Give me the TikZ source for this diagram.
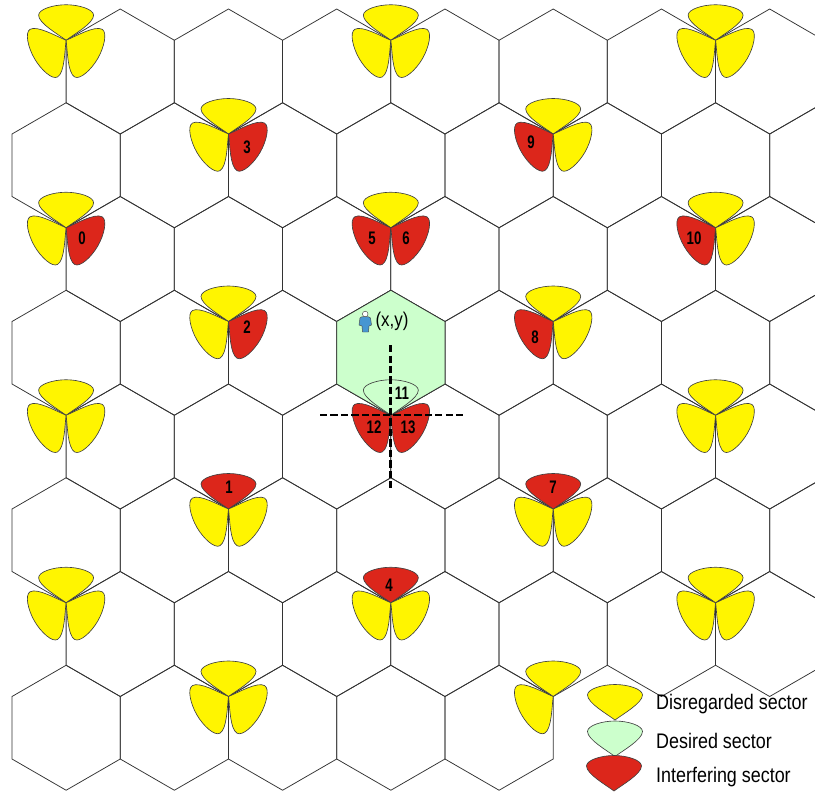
\documentclass[tikz,border=0pt]{standalone}
\usepackage{fontspec}
\setmainfont{Liberation Sans}
\newfontfamily\legendfont[FakeStretch=0.85]{Liberation Sans}
\newfontfamily\numfont[FakeStretch=0.73]{Liberation Sans}
\definecolor{lobeyellow}{RGB}{255,245,0}
\definecolor{lobegreen}{RGB}{204,255,204}
\definecolor{lobered}{RGB}{220,38,27}
\definecolor{userblue}{RGB}{70,150,210}
\tikzset{
  hexcell/.style={draw=black!80, line width=0.65pt},
  sector/.style={draw=black!75, line width=0.55pt, line join=round},
  numlabel/.style={font=\numfont\bfseries\fontsize{15.5}{16}\selectfont, inner sep=0pt},
  legendlabel/.style={font=\legendfont\fontsize{18}{20}\selectfont, anchor=west, inner sep=0pt},
  axisline/.style={black, line width=2pt, dash pattern=on 6pt off 2.96pt}
}
\def\hexpath{++(0,62.5) -- ++(54.12,-31.25) -- ++(0,-62.5) -- ++(-54.12,-31.25) -- ++(-54.12,31.25) -- ++(0,62.5) -- cycle}
\def\lobepath{(0,0) .. controls (-8,6) and (-27.5,17) .. (-27.5,25) .. controls (-27.5,31) and (-13,35.5) .. (0,35.5) .. controls (13,35.5) and (27.5,31) .. (27.5,25) .. controls (27.5,17) and (8,6) .. (0,0) -- cycle}
\begin{document}
\begin{tikzpicture}[x=0.85358pt, y=0.85358pt]
  \useasboundingbox (0,-794) rectangle (815,0);
  % Hexagon rows
  \foreach \rowy in {-71.5,-259,-446.5,-634}
    \foreach \col in {2,4,...,14}
      \draw[hexcell] (12+\col*54.12,\rowy) \hexpath;
  \foreach \rowy in {-165.25,-352.75,-540.25}
    \foreach \col in {1,3,...,15}
      \draw[hexcell] (12+\col*54.12,\rowy) \hexpath;
  \foreach \col in {1,3,...,9}
    \draw[hexcell] (12+\col*54.12,-727.75) \hexpath;
  % Desired cell
  \filldraw[hexcell, fill=lobegreen] (390.84,-352.75) \hexpath;
  % Sites: x / y / top / left / right
  \foreach \sx/\sy/\ctop/\cleft/\cright in {
      66.1/-40.25/lobeyellow/lobeyellow/lobeyellow, 390.84/-40.25/lobeyellow/lobeyellow/lobeyellow,
      715.6/-40.25/lobeyellow/lobeyellow/lobeyellow, 228.5/-134/lobeyellow/lobeyellow/lobered,
      553.2/-134/lobeyellow/lobered/lobeyellow, 66.1/-227.75/lobeyellow/lobeyellow/lobered,
      390.84/-227.75/lobeyellow/lobered/lobered, 715.6/-227.75/lobeyellow/lobered/lobeyellow,
      228.5/-321.5/lobeyellow/lobeyellow/lobered, 553.2/-321.5/lobeyellow/lobered/lobeyellow,
      66.1/-415.25/lobeyellow/lobeyellow/lobeyellow, 390.84/-415.25/lobegreen/lobered/lobered,
      715.6/-415.25/lobeyellow/lobeyellow/lobeyellow, 228.5/-509/lobered/lobeyellow/lobeyellow,
      553.2/-509/lobered/lobeyellow/lobeyellow, 66.1/-602.75/lobeyellow/lobeyellow/lobeyellow,
      390.84/-602.75/lobered/lobeyellow/lobeyellow, 715.6/-602.75/lobeyellow/lobeyellow/lobeyellow,
      228.5/-696.5/lobeyellow/lobeyellow/lobeyellow}{
    \filldraw[sector, fill=\ctop, shift={(\sx,\sy)}] \lobepath;
    \filldraw[sector, fill=\cleft, shift={(\sx,\sy)}, rotate=120, yscale=1.03] \lobepath;
    \filldraw[sector, fill=\cright, shift={(\sx,\sy)}, rotate=-120, yscale=1.03] \lobepath;
  }
  % Site cut by the legend
  \filldraw[sector, fill=lobeyellow, shift={(553.2,-696.5)}] \lobepath;
  \filldraw[sector, fill=lobeyellow, shift={(553.2,-696.5)}, rotate=120, yscale=1.03] \lobepath;
  % Sector numbers
  \node[numlabel] (numzero) at (82,-238) {0};
  \node[numlabel] (numone) at (229,-487) {1};
  \node[numlabel] (numtwo) at (247,-327) {2};
  \node[numlabel] (numthree) at (247,-147) {3};
  \node[numlabel] (numfour) at (389,-585) {4};
  \node[numlabel] (numfive) at (372,-238) {5};
  \node[numlabel] (numsix) at (406,-238) {6};
  \node[numlabel] (numseven) at (553,-487) {7};
  \node[numlabel] (numeight) at (535,-337) {8};
  \node[numlabel] (numnine) at (531,-142) {9};
  \node[numlabel] (numten) at (694,-238) {10};
  \node[numlabel] (numeleven) at (402,-393) {11};
  \node[numlabel] (numtwelve) at (374,-427) {12};
  \node[numlabel] (numthirteen) at (408,-427) {13};
  % Axes through the site
  \draw[axisline] (320,-415.25) -- (465,-415.25);
  \draw[axisline] (390.5,-345) -- (390.5,-488.5);
  % User
  \node[font=\legendfont\fontsize{17}{18}\selectfont, inner sep=0pt] (userpos) at (392,-321.5) {(x,y)};
  \filldraw[draw=black!70, fill=userblue, line width=0.4pt, line join=round]
    (360,-318) .. controls (360,-316) and (370,-316) .. (370.5,-318) -- (371.5,-325) -- (369,-326)
    -- (368.5,-332) -- (362.5,-332) -- (362,-326) -- (359,-325) -- cycle;
  \filldraw[draw=black!70, fill=white, line width=0.4pt] (365.2,-314) circle (2.8);
  % Legend
  \filldraw[sector, fill=lobeyellow, shift={(615,-720)}] \lobepath;
  \filldraw[sector, fill=lobegreen, shift={(615,-756.5)}] \lobepath;
  \filldraw[sector, fill=lobered, shift={(614,-791)}] \lobepath;
  \node[legendlabel] (legdis) at (656,-704.5) {Disregarded sector};
  \node[legendlabel] (legdes) at (656,-741) {Desired sector};
  \node[legendlabel] (legint) at (656,-777.5) {Interfering sector};
\end{tikzpicture}
\end{document}
